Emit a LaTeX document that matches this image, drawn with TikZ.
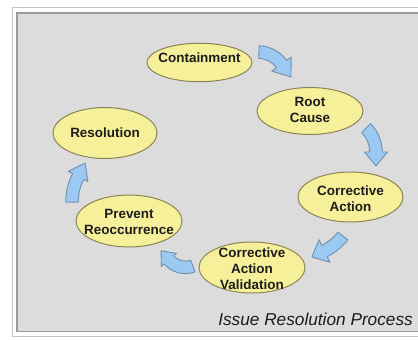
\documentclass[tikz,border=0pt]{standalone}
\usepackage{fontspec}
\setmainfont{Liberation Sans}
\usetikzlibrary{shapes.geometric,calc}
\definecolor{panel}{HTML}{DCDCDC}
\definecolor{panelline}{HTML}{9A9A9A}
\definecolor{outerline}{HTML}{C4C4C4}
\definecolor{bubfill}{HTML}{F7F09A}
\definecolor{bubline}{HTML}{8A8455}
\definecolor{arrfill}{HTML}{9CC9F2}
\definecolor{arrline}{HTML}{6F8FAE}
\definecolor{txt}{HTML}{1C1C1C}
\tikzset{
  bubble/.style={ellipse, draw=bubline, fill=bubfill, line width=1bp, inner sep=0pt},
  btext/.style={font=\bfseries\fontsize{13.5}{16}\selectfont, text=txt, align=center, inner sep=0pt},
  barrow/.style={draw=arrline, fill=arrfill, line width=0.9bp, line join=round},
}
% #1 cx #2 cy #3 r #4 tail angle #5 head angle #6 band width #7 head width #8 head length
\newcommand{\blockarrow}[8]{%
  \begin{scope}[shift={(#1,#2)}]
    \path[barrow] (#4:{#3bp+#6bp/2}) arc[start angle=#4, end angle=#5, radius={#3bp+#6bp/2}]
      -- (#5:{#3bp+#7bp/2}) -- ($(#5:#3bp)+(#5-90:#8bp)$) -- (#5:{#3bp-#7bp/2})
      -- (#5:{#3bp-#6bp/2}) arc[start angle=#5, end angle=#4, radius={#3bp-#6bp/2}] -- cycle;
  \end{scope}}
\begin{document}
\begin{tikzpicture}[x=1bp,y=1bp]
\useasboundingbox (0,0) rectangle (418,340);
\clip (0,0) rectangle (418,340);
\fill[white] (0,0) rectangle (418,340);
\draw[outerline, line width=1bp] (12.5,3.3) rectangle (425,332.7);
\draw[panelline, line width=1.5bp, fill=panel] (17,8.5) rectangle (425,327);

% bubbles
\node[bubble, minimum width=105bp, minimum height=38.5bp] (cont) at (199.5,277.5) {};
\node[bubble, minimum width=106bp, minimum height=47bp] (root) at (310,229) {};
\node[bubble, minimum width=104bp, minimum height=51bp] (reso) at (105,207) {};
\node[bubble, minimum width=105bp, minimum height=50bp] (corr) at (350.5,143) {};
\node[bubble, minimum width=106bp, minimum height=52bp] (prev) at (129,119) {};
\node[bubble, minimum width=106bp, minimum height=51bp] (vali) at (252,72.5) {};

\node[btext] (contT) at (199.5,282) {Containment};
\node[btext] (rootT) at (310,230) {Root\\Cause};
\node[btext] (resoT) at (105,207) {Resolution};
\node[btext] (corrT) at (350.5,141.5) {Corrective\\Action};
\node[btext] (prevT) at (129,118.5) {Prevent\\Reoccurrence};
\node[btext] (valiT) at (252,71.5) {Corrective\\Action\\Validation};

% arrows
\blockarrow{257.9}{258.8}{29.2}{88}{36}{12.5}{24}{16}
\blockarrow{342.2}{188}{33.8}{45}{0}{12.5}{23}{14}
\blockarrow{301.4}{136.4}{52.7}{-38}{-64}{12.5}{25}{14}
\blockarrow{185.4}{94.4}{21.8}{290}{221}{12.5}{20}{12}
\blockarrow{125.9}{138.8}{53.8}{181}{152.6}{12.5}{22}{15}

\node[font=\itshape\fontsize{17.3}{20}\selectfont, text=txt, anchor=base east, inner sep=0pt] (title) at (413,15) {Issue Resolution Process};
\end{tikzpicture}
\end{document}
